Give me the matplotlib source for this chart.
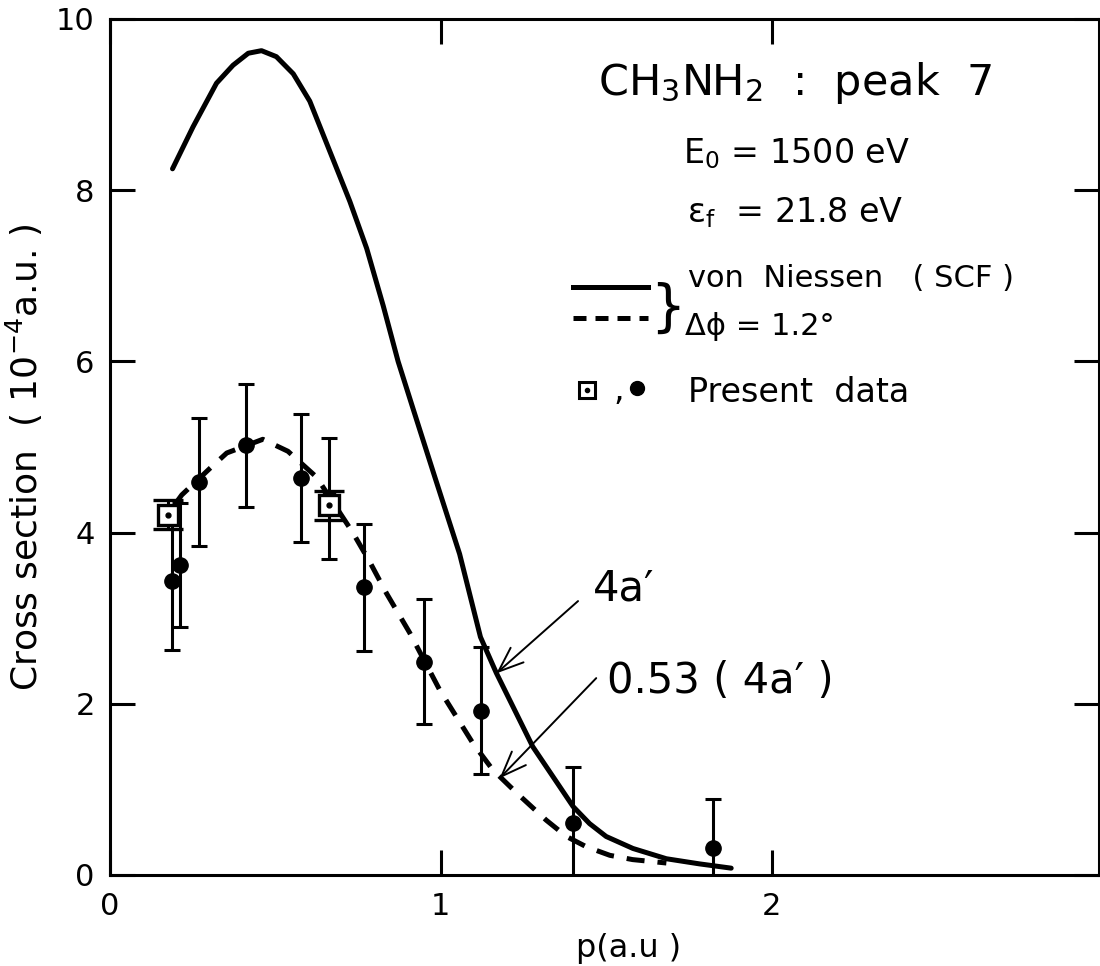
import numpy as np
import matplotlib
matplotlib.use("Agg")
import matplotlib.pyplot as plt
from matplotlib.lines import Line2D

plt.rcParams['font.family'] = ['DejaVu Sans']
plt.rcParams['mathtext.fontset'] = 'dejavusans'
plt.rcParams['mathtext.default'] = 'regular'

# theory, von Niessen SCF (4a')
theory_p = [0.189, 0.251, 0.322, 0.372, 0.418, 0.458, 0.503, 0.554, 0.604, 0.665,
            0.725, 0.776, 0.826, 0.871, 0.916, 0.982, 1.057, 1.12, 1.168, 1.278,
            1.36, 1.40, 1.45, 1.50, 1.581, 1.682, 1.782, 1.878]
theory_xs = [8.25, 8.74, 9.25, 9.46, 9.60, 9.63, 9.56, 9.36, 9.04, 8.45,
             7.87, 7.32, 6.65, 6.00, 5.45, 4.65, 3.75, 2.78, 2.36, 1.50,
             1.03, 0.80, 0.60, 0.45, 0.31, 0.19, 0.13, 0.08]

# folded with angular resolution, scaled 0.53
folded_p = [0.20, 0.217, 0.302, 0.353, 0.462, 0.538, 0.624, 0.734, 0.785, 0.836,
            0.906, 0.997, 1.097, 1.157, 1.229, 1.319, 1.38, 1.440, 1.511, 1.580, 1.682]
folded_xs = [4.35, 4.44, 4.75, 4.93, 5.09, 4.95, 4.65, 4.00, 3.66, 3.29,
             2.83, 2.16, 1.54, 1.23, 0.96, 0.64, 0.45, 0.33, 0.23, 0.18, 0.14]

# present data, filled circles
dot_p = [0.186, 0.211, 0.269, 0.411, 0.577, 0.662, 0.767, 0.949, 1.123, 1.399, 1.822]
dot_xs = [3.43, 3.62, 4.59, 5.02, 4.64, 4.40, 3.36, 2.49, 1.92, 0.61, 0.31]
dot_err = [0.80, 0.72, 0.75, 0.72, 0.75, 0.71, 0.74, 0.73, 0.74, 0.65, 0.58]

# present data, squares
sq_p = [0.175, 0.662]
sq_xs = [4.21, 4.32]
sq_err = [0.165, 0.17]

fig = plt.figure(figsize=(11, 9.66), dpi=100)
ax = fig.add_axes([0.1, 91 / 966, 989 / 1100, 856 / 966])

ax.plot(theory_p, theory_xs, color='black', lw=3.6, solid_capstyle='round',
        solid_joinstyle='round')
ax.plot(folded_p, folded_xs, color='black', lw=3.6, dashes=(3.6, 2.6))

ax.errorbar(dot_p, dot_xs, yerr=dot_err, fmt='o', ms=11, color='black',
            ecolor='black', elinewidth=2.2, capsize=5.5, capthick=2.2)
ax.errorbar(sq_p, sq_xs, yerr=sq_err, fmt='s', ms=14, mfc='white', mec='black',
            mew=2.4, ecolor='black', elinewidth=2.2, capsize=11, capthick=2.2, zorder=4)
ax.plot(sq_p, sq_xs, 'o', ms=3.5, color='black', zorder=5)

ax.set_xlim(0, 2.99)
ax.set_ylim(0, 10)
ax.set_xticks([0, 1, 2])
ax.set_yticks([0, 2, 4, 6, 8, 10])
for s in ax.spines.values():
    s.set_linewidth(2.2)
ax.tick_params(direction='in', length=18, width=2.2, top=True, right=True,
               labelsize=22)
ax.tick_params(axis='x', pad=12)
ax.tick_params(axis='y', pad=11)

ax.set_xlabel('p(a.u )', fontsize=23)
ax.xaxis.set_label_coords(0.524, -0.068)
ax.set_ylabel('Cross section  ( 10$^{-4}$a.u. )', fontsize=26)
ax.yaxis.set_label_coords(-0.066, 0.488)

# annotations
ax.text(1.474, 9.11, 'CH$_3$NH$_2$  :  peak  7', fontsize=31, va='baseline')
ax.text(1.731, 8.32, 'E$_0$ = 1500 eV', fontsize=24, va='baseline')
ax.text(1.743, 7.63, 'ε$_f$  = 21.8 eV', fontsize=24, va='baseline')
ax.text(1.746, 6.87, 'von  Niessen   ( SCF )', fontsize=22, va='baseline')
ax.text(1.737, 6.31, 'Δϕ = 1.2°', fontsize=22, va='baseline')
ax.text(1.685, 6.62, '}', fontsize=40, va='center', ha='center')
ax.add_line(Line2D([0.468, 0.544], [0.687, 0.687], transform=ax.transAxes,
                   color='black', lw=3.6))
ax.add_line(Line2D([0.468, 0.544], [0.651, 0.651], transform=ax.transAxes,
                   color='black', lw=3.6, dashes=(2.6, 1.8)))

ax.plot([0.482], [0.567], 's', ms=12, mfc='white', mec='black', mew=2.2,
        transform=ax.transAxes, clip_on=False)
ax.plot([0.482], [0.567], 'o', ms=3, color='black', transform=ax.transAxes)
ax.text(1.522, 5.55, ',', fontsize=24, va='baseline')
ax.plot([0.533], [0.569], 'o', ms=10, color='black', transform=ax.transAxes)
ax.text(1.746, 5.53, 'Present  data', fontsize=24, va='baseline')

ax.text(1.459, 3.21, '4a′', fontsize=30, va='baseline')
ax.text(1.502, 2.13, '0.53 ( 4a′ )', fontsize=30, va='baseline')
arrow = dict(arrowstyle='->,head_length=0.9,head_width=0.35', lw=1.4,
             color='black', shrinkA=0, shrinkB=0, mutation_scale=20)
ax.annotate('', xy=(1.168, 2.355), xytext=(1.415, 3.20), arrowprops=arrow)
ax.annotate('', xy=(1.178, 1.13), xytext=(1.470, 2.30), arrowprops=arrow)

fig.savefig('out.png', dpi=100)
